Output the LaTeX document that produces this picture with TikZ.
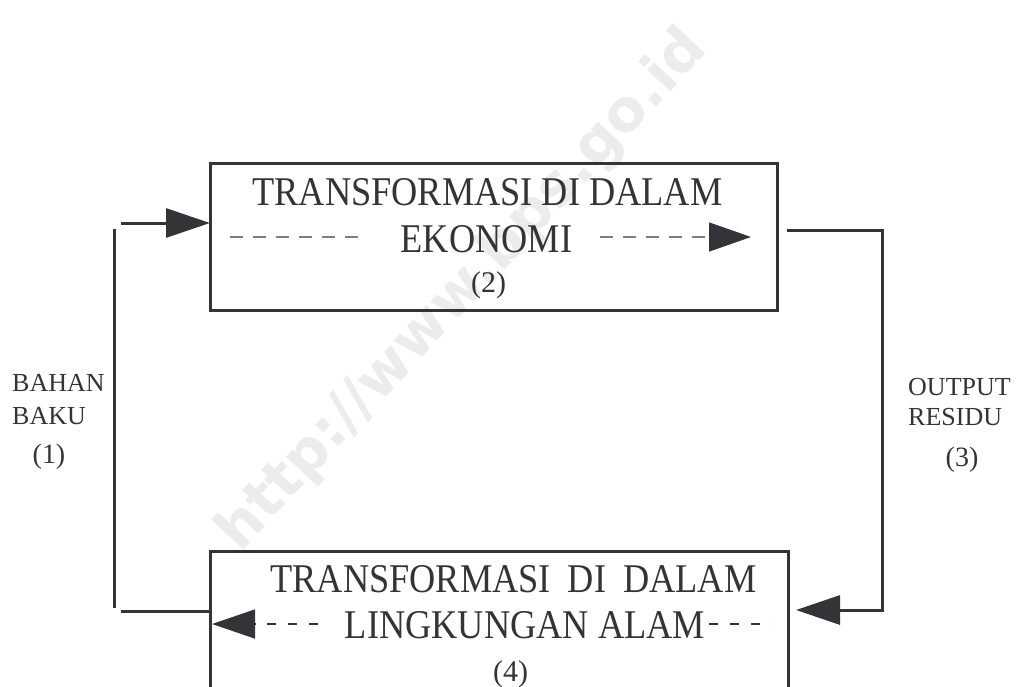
\documentclass[tikz,border=0pt]{standalone}
\usepackage{fontspec}
\setmainfont{Liberation Serif}
\newfontfamily\condfont[FakeStretch=0.89]{Liberation Serif}
\newfontfamily\wmfont{DejaVu Sans}
\usetikzlibrary{arrows.meta}
\definecolor{ink}{RGB}{52,52,56}
\definecolor{dashgray}{RGB}{125,125,125}
\definecolor{wmgray}{RGB}{236,236,236}
\begin{document}
\begin{tikzpicture}[x=1pt,y=-1pt,
  box/.style={draw=ink, line width=3pt, inner sep=0pt, outer sep=0pt},
  maintext/.style={font=\condfont\fontsize{40.8}{44}\selectfont, text=ink, inner sep=0pt},
  numtext/.style={font=\fontsize{30}{32}\selectfont, text=ink, inner sep=0pt},
  sidetext/.style={font=\fontsize{26}{28}\selectfont, text=ink, inner sep=0pt},
  sidenum/.style={font=\fontsize{28}{30}\selectfont, text=ink, inner sep=0pt},
  conn/.style={draw=ink, line width=3pt},
  bigtip/.style={-{Triangle[length=44pt,width=29pt,color=ink]}},
  dashtop/.style={draw=dashgray, line width=1.5pt, dash pattern=on 13pt off 10pt},
  dashbot/.style={draw=ink, line width=1.3pt, dash pattern=on 9pt off 12pt},
  wmark/.style={font=\wmfont\bfseries\fontsize{58}{60}\selectfont, text=wmgray, inner sep=0pt}
]
\useasboundingbox (0,0) rectangle (1023,686);
\fill[white] (0,0) rectangle (1023,686);

% watermark
\node[wmark, rotate=47] (wm) at (463,291) {http://www.bps.go.id};

% boxes
\node[box, minimum width=567pt, minimum height=147pt] (eko) at (493.5,236.5) {};
\node[box, minimum width=578pt, minimum height=189pt] (alam) at (499,645.5) {};

% box texts
\node[maintext, anchor=base] (t1) at (487.5,205) {TRANSFORMASI DI DALAM};
\node[maintext, anchor=base] (t2) at (486.5,252) {EKONOMI};
\node[numtext, anchor=base] (t3) at (488.5,292) {(2)};
\node[maintext, anchor=base] (b1) at (513.5,592) {TRANSFORMASI\hspace{8pt} DI\hspace{8pt} DALAM};
\node[maintext, anchor=base] (b2) at (525,638) {LINGKUNGAN ALAM};
\node[numtext, anchor=base] (b3) at (510.5,681) {(4)};

% side labels
\node[sidetext, anchor=base west] (bahan) at (12,391) {BAHAN};
\node[sidetext, anchor=base west] (baku) at (12,424) {BAKU};
\node[sidenum, anchor=base] (n1) at (49,463) {(1)};
\node[sidetext, anchor=base west] (output) at (908,395) {OUTPUT};
\node[sidetext, anchor=base west] (residu) at (908,425) {RESIDU};
\node[sidenum, anchor=base] (n3) at (962,466) {(3)};

% left connector (bahan baku)
\coordinate (lt) at (121,223);
\coordinate (lv1) at (114,229);
\coordinate (lv2) at (114,608);
\coordinate (lb) at (121,611);
\draw[conn, bigtip] (lt) -- (eko.west |- lt);
\draw[conn] (lv1) -- (lv2);
\draw[conn] (lb) -- (alam.west |- lb);

% right connector (output residu)
\coordinate (rt) at (787,230);
\coordinate (rc1) at (882,230);
\coordinate (rc2) at (882,610);
\draw[conn, bigtip, shorten >=8pt] (rt) -- (rc1) -- (rc2) -- (alam.east |- rc2);

% dashed flows in the top box
\coordinate (d1a) at (230,237);
\coordinate (d1b) at (362,237);
\coordinate (d2a) at (600,237);
\coordinate (d2b) at (751,237);
\draw[dashtop] (d1a) -- (d1b);
\draw[dashtop, -{Triangle[length=42pt,width=29pt,color=ink]}] (d2a) -- (d2b);

% dashed flows in the bottom box
\coordinate (e1a) at (318,624);
\coordinate (e1b) at (212,624);
\coordinate (e2a) at (709,624);
\coordinate (e2b) at (772,624);
\draw[dashbot, -{Triangle[length=43pt,width=29pt,color=ink]}] (e1a) -- (e1b);
\draw[dashbot] (e2a) -- (e2b);
\end{tikzpicture}
\end{document}
